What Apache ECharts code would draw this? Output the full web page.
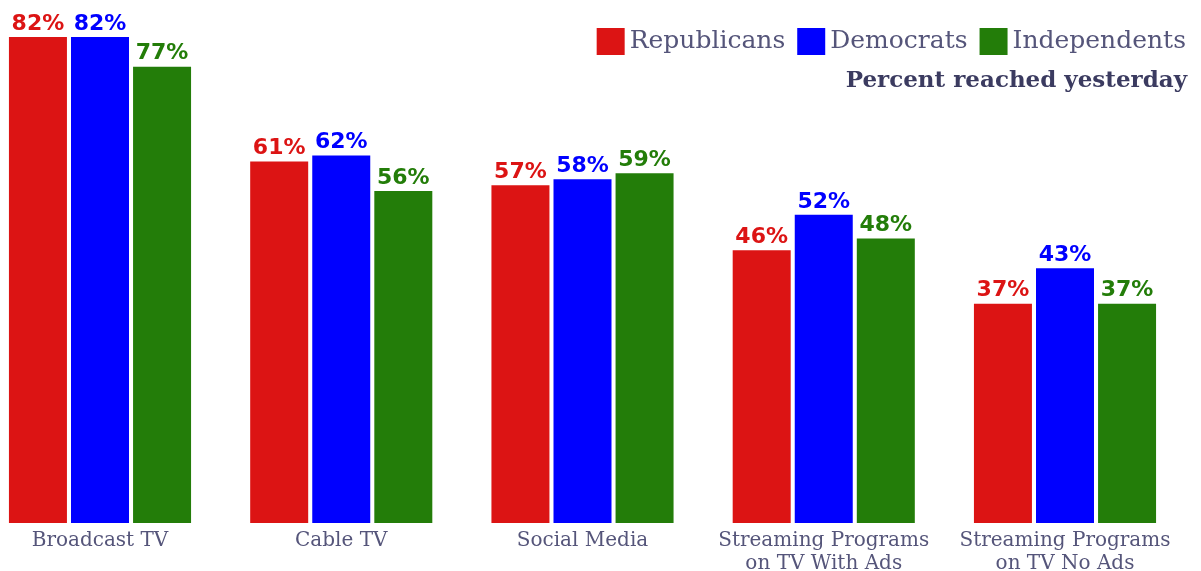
<!DOCTYPE html>
<html>
<head>
<meta charset="utf-8">
<script src="https://cdn.jsdelivr.net/npm/echarts@6/dist/echarts.min.js"></script>
<style>
  html, body { margin: 0; padding: 0; background: #fff; }
  #chart { width: 1201px; height: 571px; }
</style>
</head>
<body>
<div id="chart"></div>
<script>
// categories and values (percent reached yesterday)
var categories = ['Broadcast TV', 'Cable TV', 'Social Media', 'Streaming Programs\non TV With Ads', 'Streaming Programs\non TV No Ads'];
var republicans = [82, 61, 57, 46, 37];
var democrats = [82, 62, 58, 52, 43];
var independents = [77, 56, 59, 48, 37];

var seriesNames = ['Republicans', 'Democrats', 'Independents'];
var colors = ['#dc1414', '#0000ff', '#237d09'];

var myChart = echarts.init(document.getElementById('chart'));

function makeSeries(name, data, color) {
  return {
    name: name,
    type: 'bar',
    data: data,
    barWidth: 58,
    barGap: '7%',
    itemStyle: { color: color },
    label: {
      show: true,
      position: 'top',
      distance: 2,
      formatter: '{c}%',
      color: color,
      fontFamily: 'DejaVu Sans',
      fontWeight: 'bold',
      fontSize: 22
    }
  };
}

myChart.setOption({
  animation: false,
  color: colors,
  title: {
    text: 'Percent reached yesterday',
    right: 9,
    top: 65,
    textStyle: {
      fontFamily: 'DejaVu Serif',
      fontWeight: 'bold',
      fontSize: 23,
      color: '#3b3b60'
    }
  },
  legend: {
    data: seriesNames,
    right: 10,
    top: 23,
    itemWidth: 28,
    itemHeight: 27,
    itemGap: 12,
    icon: 'rect',
    textStyle: {
      fontFamily: 'DejaVu Serif',
      fontSize: 25,
      color: '#55557a'
    }
  },
  // category ticks sit on the bar-group centres (first at x=100, last at x=1065)
  grid: {
    left: 100,
    right: 136,
    top: 37,
    bottom: 48,
    containLabel: false,
    outerBoundsMode: 'none'
  },
  xAxis: {
    type: 'category',
    data: categories,
    boundaryGap: false,
    axisLine: { show: false },
    axisTick: { show: false },
    axisLabel: {
      interval: 0,
      margin: 6,
      fontFamily: 'DejaVu Serif',
      fontSize: 20,
      lineHeight: 23,
      color: '#55557a'
    }
  },
  yAxis: {
    type: 'value',
    min: 0,
    max: 82,
    show: false,
    splitLine: { show: false }
  },
  series: [
    makeSeries(seriesNames[0], republicans, colors[0]),
    makeSeries(seriesNames[1], democrats, colors[1]),
    makeSeries(seriesNames[2], independents, colors[2])
  ]
});
</script>
</body>
</html>
